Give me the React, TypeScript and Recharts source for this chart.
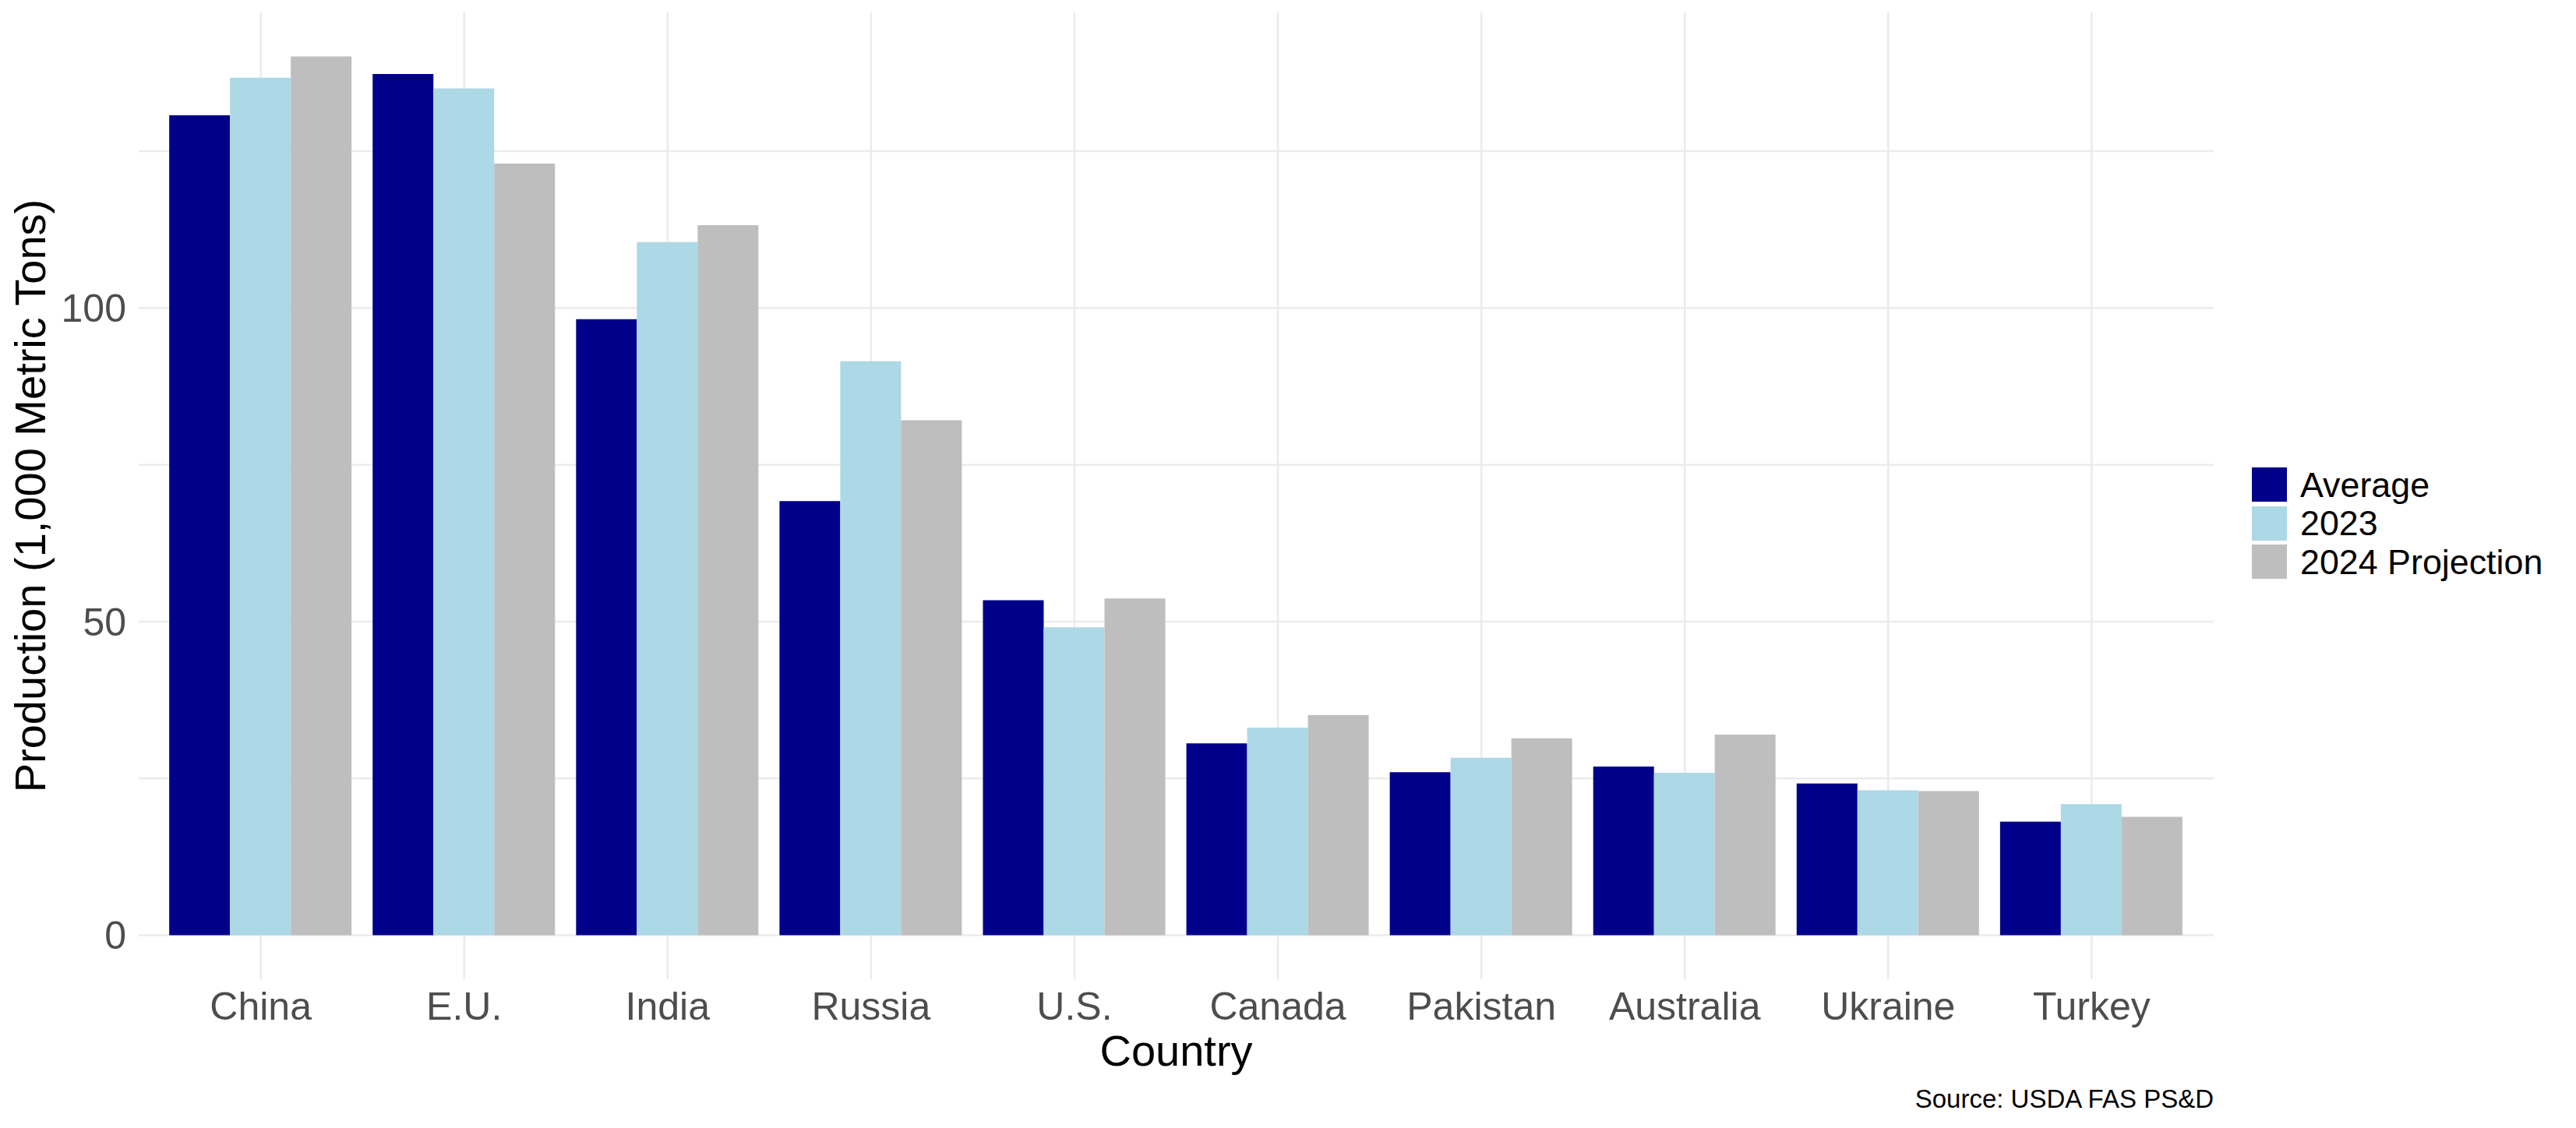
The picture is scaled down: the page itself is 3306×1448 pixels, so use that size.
import { BarChart, Bar, XAxis, YAxis, CartesianGrid, Legend, Label } from "recharts";

const countries = ["China", "E.U.", "India", "Russia", "U.S.", "Canada", "Pakistan", "Australia", "Ukraine", "Turkey"];
const average = [130.7, 137.3, 98.2, 69.2, 53.4, 30.6, 26.0, 26.9, 24.2, 18.1];
const year2023 = [136.7, 135.0, 110.5, 91.5, 49.1, 33.1, 28.3, 25.9, 23.1, 20.9];
const year2024 = [140.1, 123.0, 113.2, 82.1, 53.7, 35.1, 31.4, 32.0, 23.0, 18.9];
const yTicks = [0, 25, 50, 75, 100, 125];
const labelledTicks = [0, 50, 100];

const series = [
  { key: "average", name: "Average", color: "#00008B" },
  { key: "y2023", name: "2023", color: "#ADD8E6" },
  { key: "y2024", name: "2024 Projection", color: "#BEBEBE" },
];

const chartData = countries.map((name, i) => ({
  name,
  average: average[i],
  y2023: year2023[i],
  y2024: year2024[i],
}));

// ggplot-style 5% expansion around the data range
const dataMax = Math.max(...average, ...year2023, ...year2024);
const pad = dataMax * 0.05;

const font = "'Liberation Sans', Arial, sans-serif";
const tickStyle = { fontSize: 50, fill: "#4D4D4D", fontFamily: font };

function LegendBox() {
  return (
    <div>
      {series.map((s) => (
        <div key={s.key} style={{ display: "flex", alignItems: "center", height: 44, marginBottom: 5.5 }}>
          <div style={{ width: 45, height: 44, background: s.color }} />
          <span style={{ marginLeft: 17, fontSize: 44.8, lineHeight: 1, color: "#000", whiteSpace: "nowrap" }}>
            {s.name}
          </span>
        </div>
      ))}
    </div>
  );
}

export default function App() {
  return (
    <div
      style={{
        position: "absolute",
        left: 0,
        top: 0,
        width: 3306,
        height: 1448,
        background: "#fff",
        fontFamily: font,
      }}
    >
      <BarChart
        width={3306}
        height={1448}
        data={chartData}
        margin={{ top: 16, right: 465, bottom: 0, left: 0 }}
        barCategoryGap="5%"
        barGap={0}
      >
        <CartesianGrid stroke="#EBEBEB" strokeWidth={2.5} syncWithTicks />
        <XAxis
          dataKey="name"
          height={191}
          interval={0}
          padding={{ left: 26.1, right: 26.1 }}
          axisLine={false}
          tickLine={false}
          tickSize={0}
          tickMargin={16.5}
          tick={tickStyle}
        >
          <Label
            value="Country"
            position="insideBottom"
            offset={80}
            style={{ fontSize: 56, fill: "#000", fontFamily: font }}
          />
        </XAxis>
        <YAxis
          type="number"
          width={178}
          domain={[-pad, dataMax + pad]}
          ticks={yTicks}
          tickFormatter={(v: number) => (labelledTicks.includes(v) ? String(v) : "")}
          axisLine={false}
          tickLine={false}
          tickSize={0}
          tickMargin={16}
          tick={tickStyle}
        >
          <Label
            value="Production (1,000 Metric Tons)"
            angle={-90}
            position="insideLeft"
            offset={38}
            style={{ fontSize: 56, fill: "#000", fontFamily: font, textAnchor: "middle" }}
          />
        </YAxis>
        <Legend
          layout="horizontal"
          align="center"
          verticalAlign="middle"
          content={<LegendBox />}
          wrapperStyle={{ position: "absolute", left: 2890, top: 600, width: "auto", height: "auto" }}
        />
        {series.map((s) => (
          <Bar key={s.key} dataKey={s.key} name={s.name} fill={s.color} isAnimationActive={false} />
        ))}
      </BarChart>
      <div
        style={{
          position: "absolute",
          right: 465,
          top: 1394,
          fontSize: 33,
          lineHeight: 1,
          color: "#000",
          whiteSpace: "nowrap",
        }}
      >
        Source: USDA FAS PS&amp;D
      </div>
    </div>
  );
}
